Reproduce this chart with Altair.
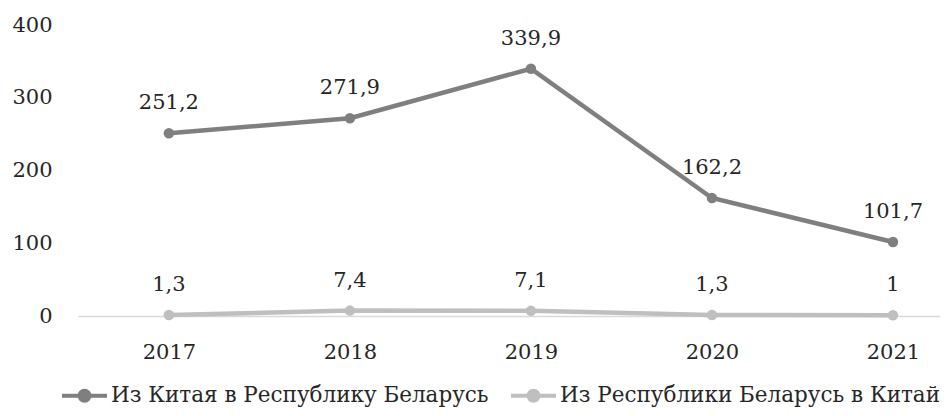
import altair as alt
import pandas as pd

years = ["2017", "2018", "2019", "2020", "2021"]
series_names = ["Из Китая в Республику Беларусь", "Из Республики Беларусь в Китай"]
china_to_belarus = [251.2, 271.9, 339.9, 162.2, 101.7]
belarus_to_china = [1.3, 7.4, 7.1, 1.3, 1.0]
colors = ["#7f7f7f", "#bfbfbf"]

rows = []
for i, y in enumerate(years):
    rows.append({"year": y, "series": series_names[0], "value": china_to_belarus[i], "order": 0})
for i, y in enumerate(years):
    rows.append({"year": y, "series": series_names[1], "value": belarus_to_china[i], "order": 1})
df = pd.DataFrame(rows)

FONT = "DejaVu Serif"
TXT = "#262626"
FS = 21

legend_symbol = "M-1,0H1M0.222,0A0.222,0.222,0,1,1,-0.222,0A0.222,0.222,0,1,1,0.222,0Z"

x_enc = alt.X(
    "year:O",
    sort=years,
    scale=alt.Scale(type="point", padding=0.381, align=0.659),
    axis=alt.Axis(
        title=None, labelAngle=0, ticks=False, tickSize=0, domainColor="#d9d9d9",
        domainWidth=1.5, labelPadding=25, labelFontSize=FS, labelFont=FONT,
        labelColor=TXT, grid=False,
    ),
)
y_enc = alt.Y(
    "value:Q",
    scale=alt.Scale(domain=[0, 400], nice=False),
    axis=alt.Axis(
        title=None, values=[0, 100, 200, 300, 400], domain=False, ticks=False,
        tickSize=0, grid=False, labelPadding=26, labelFontSize=FS, labelFont=FONT,
        labelColor=TXT,
    ),
)
color_enc = alt.Color(
    "series:N",
    sort=series_names,
    scale=alt.Scale(domain=series_names, range=colors),
    legend=alt.Legend(
        title=None, orient="none", legendX=-18, legendY=346, direction="horizontal",
        columns=2, columnPadding=14, labelFont=FONT, labelFontSize=21.5, labelColor=TXT,
        symbolType=legend_symbol, symbolSize=2025, symbolStrokeWidth=4,
        labelOffset=2, padding=0, labelLimit=0,
    ),
)

base = alt.Chart(df)

lines = base.mark_line(strokeWidth=4.5).encode(
    x=x_enc, y=y_enc, color=color_enc, order=alt.Order("order:Q")
)
points = base.mark_point(filled=True, size=110, opacity=1).encode(
    x=x_enc, y=y_enc, color=color_enc
)
labels = base.mark_text(
    dy=-30, baseline="middle", align="center", font=FONT, fontSize=FS, color=TXT
).transform_calculate(
    label="replace(toString(datum.value), '.', ',')"
).encode(x=x_enc, y=y_enc, text="label:N")

chart = alt.layer(lines, points, labels).properties(
    width=862,
    height=291,
    autosize=alt.AutoSizeParams(type="none"),
    padding={"left": 70, "top": 17, "right": 0, "bottom": 92},
).configure_view(stroke=None)

chart.save("out.html", embed_options={"renderer": "svg", "actions": False})
